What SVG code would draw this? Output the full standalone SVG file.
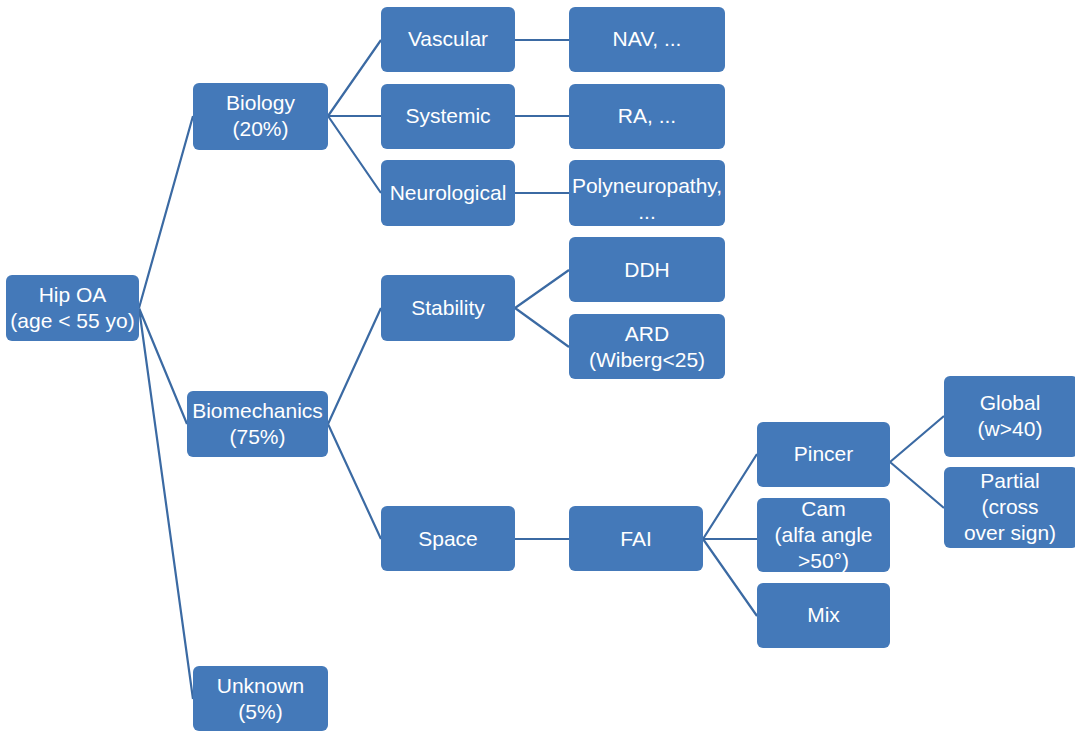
<svg xmlns="http://www.w3.org/2000/svg" width="1075" height="732" viewBox="0 0 1075 732">
  <style>
    .box { fill: #4479b9; }
    .lbl { fill: #ffffff; font-family: "Liberation Sans", Arial, sans-serif; font-size: 21px; text-anchor: middle; }
    .edge { stroke: #3b6aa3; stroke-width: 2.2; fill: none; }
  </style>
  <rect width="1075" height="732" fill="#ffffff"/>

  <g id="connectors">
    <path class="edge" d="M139,308 L193,116 M139,308 L187,424 M139,308 L193,699"/>
    <path class="edge" d="M328,116 L381,40 M328,116 L381,116 M328,116 L381,193"/>
    <path class="edge" d="M515,40 L569,40 M515,116 L569,116 M515,193 L569,193"/>
    <path class="edge" d="M328,424 L381,308 M328,424 L381,539"/>
    <path class="edge" d="M515,308 L569,270 M515,308 L569,347"/>
    <path class="edge" d="M515,539 L569,539"/>
    <path class="edge" d="M703,539 L757,454 M703,539 L757,539 M703,539 L757,616"/>
    <path class="edge" d="M890,462 L944,416 M890,462 L944,508"/>
  </g>

  <g id="hip-oa">
    <rect class="box" x="6" y="275" width="133" height="66" rx="6"/>
    <text class="lbl" x="72.5" y="302">Hip OA</text>
    <text class="lbl" x="72.5" y="328">(age &lt; 55 yo)</text>
  </g>

  <g id="biology">
    <rect class="box" x="193" y="83" width="135" height="67" rx="6"/>
    <text class="lbl" x="260.5" y="110">Biology</text>
    <text class="lbl" x="260.5" y="136">(20%)</text>
  </g>
  <g id="biomechanics">
    <rect class="box" x="187" y="391" width="141" height="66" rx="6"/>
    <text class="lbl" x="257.5" y="418">Biomechanics</text>
    <text class="lbl" x="257.5" y="444">(75%)</text>
  </g>
  <g id="unknown">
    <rect class="box" x="193" y="666" width="135" height="65" rx="6"/>
    <text class="lbl" x="260.5" y="693">Unknown</text>
    <text class="lbl" x="260.5" y="719">(5%)</text>
  </g>

  <g id="vascular">
    <rect class="box" x="381" y="7" width="134" height="65" rx="6"/>
    <text class="lbl" x="448" y="46">Vascular</text>
  </g>
  <g id="systemic">
    <rect class="box" x="381" y="84" width="134" height="65" rx="6"/>
    <text class="lbl" x="448" y="123">Systemic</text>
  </g>
  <g id="neurological">
    <rect class="box" x="381" y="160" width="134" height="66" rx="6"/>
    <text class="lbl" x="448" y="200">Neurological</text>
  </g>
  <g id="stability">
    <rect class="box" x="381" y="275" width="134" height="66" rx="6"/>
    <text class="lbl" x="448" y="315">Stability</text>
  </g>
  <g id="space">
    <rect class="box" x="381" y="506" width="134" height="65" rx="6"/>
    <text class="lbl" x="448" y="546">Space</text>
  </g>

  <g id="nav">
    <rect class="box" x="569" y="7" width="156" height="65" rx="6"/>
    <text class="lbl" x="647" y="46">NAV, ...</text>
  </g>
  <g id="ra">
    <rect class="box" x="569" y="84" width="156" height="65" rx="6"/>
    <text class="lbl" x="647" y="123">RA, ...</text>
  </g>
  <g id="polyneuropathy">
    <rect class="box" x="569" y="160" width="156" height="66" rx="6"/>
    <text class="lbl" x="647" y="193">Polyneuropathy,</text>
    <text class="lbl" x="647" y="219">...</text>
  </g>
  <g id="ddh">
    <rect class="box" x="569" y="237" width="156" height="65" rx="6"/>
    <text class="lbl" x="647" y="277">DDH</text>
  </g>
  <g id="ard">
    <rect class="box" x="569" y="314" width="156" height="65" rx="6"/>
    <text class="lbl" x="647" y="341">ARD</text>
    <text class="lbl" x="647" y="367">(Wiberg&lt;25)</text>
  </g>
  <g id="fai">
    <rect class="box" x="569" y="506" width="134" height="65" rx="6"/>
    <text class="lbl" x="636" y="546">FAI</text>
  </g>

  <g id="pincer">
    <rect class="box" x="757" y="422" width="133" height="65" rx="6"/>
    <text class="lbl" x="823.5" y="461">Pincer</text>
  </g>
  <g id="cam">
    <rect class="box" x="757" y="498" width="133" height="74" rx="6"/>
    <text class="lbl" x="823.5" y="516">Cam</text>
    <text class="lbl" x="823.5" y="542">(alfa angle</text>
    <text class="lbl" x="823.5" y="568">&gt;50°)</text>
  </g>
  <g id="mix">
    <rect class="box" x="757" y="583" width="133" height="65" rx="6"/>
    <text class="lbl" x="823.5" y="622">Mix</text>
  </g>

  <g id="global">
    <rect class="box" x="944" y="376" width="134" height="81" rx="6"/>
    <text class="lbl" x="1010" y="410">Global</text>
    <text class="lbl" x="1010" y="436">(w&gt;40)</text>
  </g>
  <g id="partial">
    <rect class="box" x="944" y="467" width="134" height="81" rx="6"/>
    <text class="lbl" x="1010" y="488">Partial</text>
    <text class="lbl" x="1010" y="514">(cross</text>
    <text class="lbl" x="1010" y="540">over sign)</text>
  </g>
</svg>
